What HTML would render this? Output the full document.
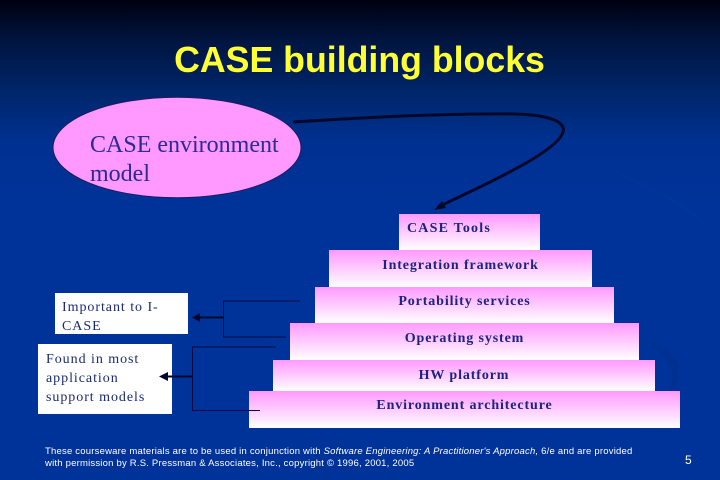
<!DOCTYPE html>
<html>
<head>
<meta charset="utf-8">
<style>
html,body{margin:0;padding:0;background:#003399}
#s{position:relative;width:720px;height:480px;overflow:hidden;background:linear-gradient(#00000f 0,#00143f 40px,#002568 90px,#003090 140px,#003399 200px,#003399 100%)}
.t{position:absolute;white-space:nowrap}
.st{position:absolute;background:linear-gradient(#ff99ff,#ffffff);}
.l{position:absolute;font:bold 14px/17px "Liberation Serif",serif;color:#1c2480;text-align:center;white-space:nowrap;letter-spacing:.88px}
.w{position:absolute;background:#fff}
.b{position:absolute;font:14px/19px "Liberation Serif",serif;color:#1c2a70;letter-spacing:.95px;white-space:nowrap}
svg{position:absolute;left:0;top:0}
</style>
</head>
<body>
<div id="s">
<svg width="720" height="480" style="z-index:0">
<path d="M600 165 C650 185 690 200 715 235 C700 215 650 190 600 165Z" fill="#0a3c9c" opacity=".2"/>
<path d="M640 340 C690 350 690 385 660 400 C680 380 675 355 640 340Z" fill="#002f90" opacity=".8"/>
<ellipse cx="177" cy="147.5" rx="124" ry="50.3" fill="#ff99ff" stroke="#1a1a60" stroke-width="1"/>
</svg>
<div class="t" style="z-index:2;left:0;width:719px;text-align:center;top:39px;font:bold 35.700px/42px 'Liberation Sans',sans-serif;color:#ffff33">CASE building blocks</div>
<div class="t" style="z-index:2;left:90px;top:131px;font:24px/29px 'Liberation Serif',serif;color:#2a2a98;white-space:normal;width:200px">CASE environment model</div>

<div class="st" style="left:399px;top:214px;width:141px;height:36px"></div>
<div class="st" style="left:329px;top:250px;width:263px;height:37px"></div>
<div class="st" style="left:315px;top:287px;width:299px;height:36px"></div>
<div class="st" style="left:290px;top:323px;width:349px;height:37px"></div>
<div class="st" style="left:273px;top:360px;width:382px;height:31px"></div>
<div class="st" style="left:249px;top:391px;width:431px;height:37px"></div>

<div class="l" style="left:407px;top:220px;letter-spacing:1.200px">CASE Tools</div>
<div class="l" style="left:329px;width:263px;top:257px">Integration framework</div>
<div class="l" style="left:315px;width:299px;top:293px">Portability services</div>
<div class="l" style="left:290px;width:349px;top:330px">Operating system</div>
<div class="l" style="left:273px;width:382px;top:367px">HW platform</div>
<div class="l" style="left:249px;width:431px;top:397px">Environment architecture</div>

<div class="w" style="left:55px;top:293px;width:133px;height:41px"></div>
<div class="w" style="left:38px;top:344px;width:134px;height:70px"></div>
<div class="b" style="left:62px;top:298px">Important to I-<br>CASE</div>
<div class="b" style="left:46px;top:350px">Found in most<br>application<br>support models</div>

<svg width="720" height="480" style="z-index:3">
<path d="M293 122 C370 117 450 113 515 114 C550 115 566 122 563 132 C558 150 500 178 438 207" fill="none" stroke="#00082a" stroke-width="3"/>
<path d="M434 210 L442 201 L446 208Z" fill="#00082a"/>
<path d="M300 301H223.500V337H286M276 347H192.500V410.500H260" fill="none" stroke="#0a0a40" stroke-width="1"/>
<path d="M223 317.500H198" stroke="#00082a" stroke-width="2"/>
<path d="M192 317.500L200 313V322Z" fill="#00082a"/>
<path d="M192 376.500H165" stroke="#00082a" stroke-width="2"/>
<path d="M159 376.500L168 372V381Z" fill="#00082a"/>
</svg>

<div class="t" style="z-index:2;left:45px;top:446px;font:9.500px/11.500px 'Liberation Sans',sans-serif;color:#fff;letter-spacing:.21px">These courseware materials are to be used in conjunction with <i>Software Engineering: A Practitioner's Approach,</i> 6/e and are provided<br>with permission by R.S. Pressman &amp; Associates, Inc., copyright © 1996, 2001, 2005</div>
<div class="t" style="z-index:2;left:685px;top:453px;font:12px/14px 'Liberation Sans',sans-serif;color:#fff">5</div>
</div>
</body>
</html>
